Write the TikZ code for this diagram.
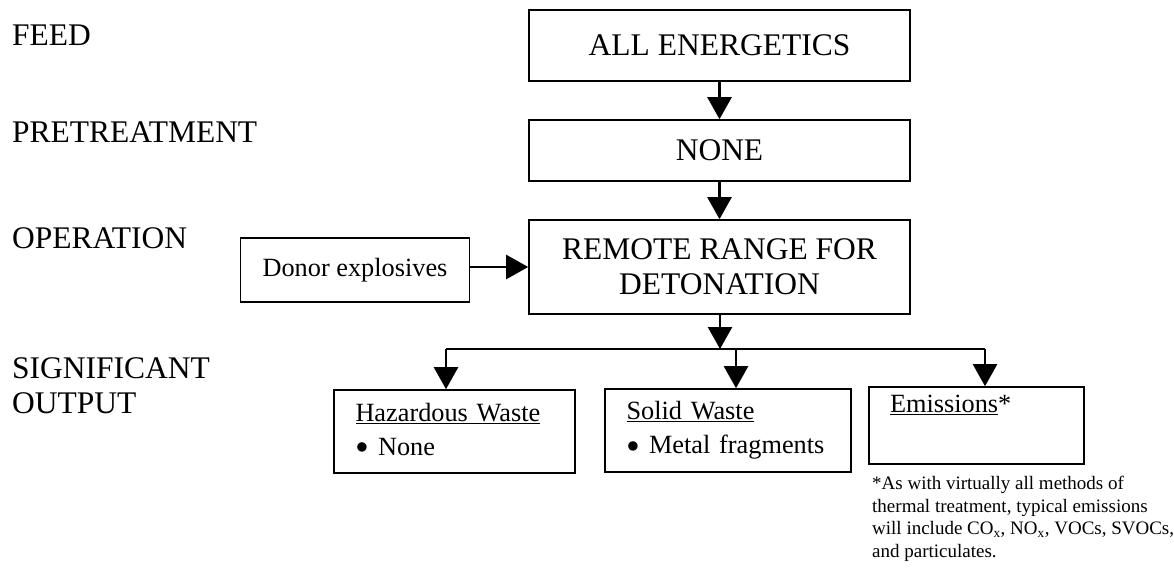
\documentclass[tikz,border=0pt]{standalone}
\usepackage{fontspec}
\setmainfont{Liberation Serif}
\usetikzlibrary{arrows.meta}
\newcommand{\bigdot}{\raisebox{-0.2em}{\scalebox{1.5}{\textbullet}}}
\begin{document}
\begin{tikzpicture}[x=1pt,y=-1pt,
  big/.style={font=\fontsize{31.5}{35}\selectfont},
  mid/.style={font=\fontsize{26.3}{34}\selectfont},
  stagebox/.style={draw,line width=1.6pt,minimum width=381pt,big,align=center,inner sep=0pt},
  outbox/.style={draw,line width=1.6pt,mid,align=left,inner sep=0pt},
  arr/.style={line width=2.4pt,-{Triangle[width=24pt,length=22pt]}},
  stagelabel/.style={big,anchor=base west,inner sep=0pt}]
\useasboundingbox (0,0) rectangle (1174,571);

% stage names down the left side
\node[stagelabel] (lfeed) at (12,45) {FEED};
\node[stagelabel] (lpret) at (12,142) {PRETREATMENT};
\node[stagelabel] (lop) at (12,248) {OPERATION};
\node[stagelabel] (lsig) at (12,378) {SIGNIFICANT};
\node[stagelabel] (lout) at (12,413) {OUTPUT};

% main column of process boxes
\node[stagebox,minimum height=71pt] (feed) at (719.5,45.5) {ALL ENERGETICS};
\node[stagebox,minimum height=61pt] (pret) at (719.5,150.5) {NONE};
\node[stagebox,minimum height=94pt] (op) at (719.5,267) {REMOTE RANGE FOR\\DETONATION};
\node[draw,line width=1.6pt,mid,minimum width=229pt,minimum height=64pt,inner sep=0pt] (donor) at (355,270) {Donor explosives};

\draw[arr] (feed) -- (pret);
\draw[arr] (pret) -- (op);
\draw[arr] (donor.east |- 0,267) -- (op.west |- 0,267);

% output boxes
\node[outbox,minimum width=241pt,minimum height=83pt,text width=198pt] (haz) at (454.5,431.5)
  {\underline{Hazardous Waste}\\\bigdot\ None};
\node[outbox,minimum width=246pt,minimum height=83pt,text width=203pt] (solid) at (728,430.5)
  {\underline{Solid Waste}\\\bigdot\ Metal fragments};
\node[outbox,minimum width=215pt,minimum height=77pt,text width=173pt] (emis) at (976.5,425.5)
  {\underline{Emissions}*\\\strut};

% branching to the outputs
\coordinate (split) at (720,349);
\coordinate (bl) at (446,349);
\coordinate (bm) at (736,349);
\coordinate (br) at (985,349);
\draw[arr] (op.south -| split) -- (split);
\draw[line width=2.4pt] (bl) -- (br);
\draw[arr] (bl) -- (bl |- haz.north);
\draw[arr] (bm) -- (bm |- solid.north);
\draw[arr] (br) -- (br |- emis.north);

% footnote on emissions
\node[anchor=north west,inner sep=0pt,align=left,font=\fontsize{19}{22.5}\selectfont] (note) at (872,476)
  {*As with virtually all methods of\\thermal treatment, typical emissions\\will include CO\textsubscript{x}, NO\textsubscript{x}, VOCs, SVOCs,\\and particulates.};
\end{tikzpicture}
\end{document}
